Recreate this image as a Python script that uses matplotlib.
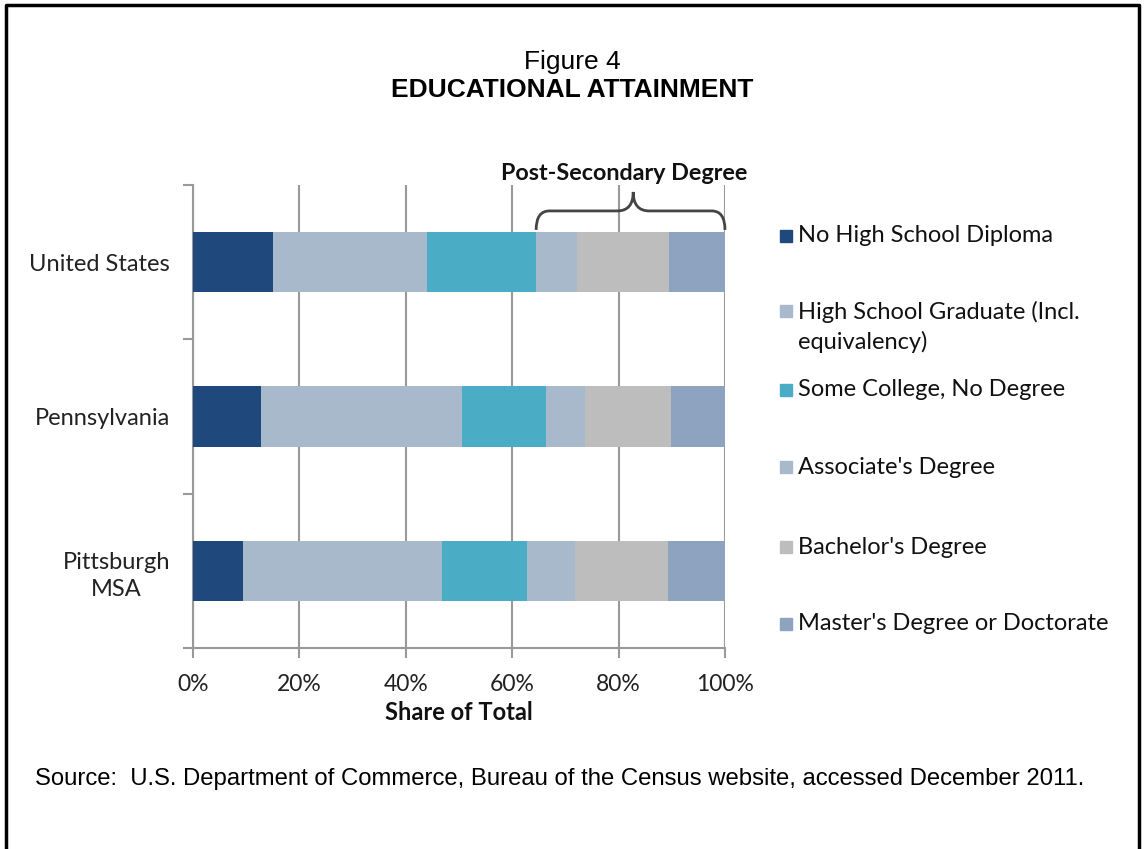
import matplotlib
matplotlib.use("Agg")
import matplotlib.pyplot as plt
from matplotlib.path import Path
from matplotlib.patches import PathPatch
import matplotlib.transforms as mtransforms
import numpy as np

regions = ['United States', 'Pennsylvania', 'Pittsburgh\nMSA']
levels = ['No High School Diploma',
          'High School Graduate (Incl.\nequivalency)',
          'Some College, No Degree',
          "Associate's Degree",
          "Bachelor's Degree",
          "Master's Degree or Doctorate"]
no_diploma = [15.0, 12.8, 9.4]
hs_grad = [29.0, 37.7, 37.4]
some_college = [20.5, 15.8, 16.0]
associate = [7.6, 7.4, 9.0]
bachelor = [17.4, 16.1, 17.5]
master = [10.5, 10.2, 10.7]
colors = ['#1F497D', '#A9B9CC', '#4BACC6', '#A9B9CC', '#BDBDBD', '#8EA3BF']

series = [no_diploma, hs_grad, some_college, associate, bachelor, master]

fig = plt.figure(figsize=(11.44, 8.49), dpi=100)
ax = fig.add_axes([193 / 1144, 1 - 648 / 849, 532 / 1144, 463 / 849])

ypos = np.arange(len(regions)) + 0.5
left = np.zeros(len(regions))
for vals, col in zip(series, colors):
    ax.barh(ypos, vals, left=left, height=0.39, color=col, zorder=3)
    left += np.array(vals)

ax.set_xlim(0, 100)
ax.set_ylim(3, 0)
ax.set_xticks([0, 20, 40, 60, 80, 100])
ax.set_xticklabels(['0%', '20%', '40%', '60%', '80%', '100%'],
                   family='Lato', fontsize=16.5, color='#222222')
ax.set_yticks([0, 1, 2, 3])
ax.set_yticklabels([])
ax.set_yticks(ypos, minor=True)
ax.set_yticklabels(regions, minor=True, family='Lato', fontsize=17,
                   color='#222222', ha='right', multialignment='center',
                   linespacing=1.35)
ax.tick_params(axis='y', which='minor', length=0, pad=16.5)
ax.tick_params(axis='y', which='major', length=7, color='#999999', width=1.5)
ax.tick_params(axis='x', length=7, color='#999999', width=1.5, pad=12)
ax.grid(axis='x', color='#999999', linewidth=1.5, zorder=0)
for s in ['top', 'right']:
    ax.spines[s].set_visible(False)
for s in ['left', 'bottom']:
    ax.spines[s].set_color('#999999')
    ax.spines[s].set_linewidth(1.5)
ax.set_xlabel('Share of Total', family='Lato', fontsize=17, fontweight='bold',
              labelpad=4, color='#111111')

# brace over the post-secondary segments
trans = mtransforms.blended_transform_factory(ax.transData, ax.transAxes)
x0 = sum(v[0] for v in series[:3])
x1 = 100
xm = (x0 + x1) / 2 + 0.5
yb, yh, yt = 0.903, 0.944, 0.985
verts = [(x0, yb), (x0, yh), (x0 + 2.5, yh),
         (xm - 3, yh), (xm, yh), (xm, yt),
         (xm, yh), (xm + 3, yh),
         (x1 - 2.5, yh), (x1, yh), (x1, yb)]
codes = [Path.MOVETO, Path.CURVE3, Path.CURVE3,
         Path.LINETO, Path.CURVE3, Path.CURVE3,
         Path.CURVE3, Path.CURVE3,
         Path.LINETO, Path.CURVE3, Path.CURVE3]
ax.add_patch(PathPatch(Path(verts, codes), transform=trans, fill=False,
                       edgecolor='#444444', linewidth=2, zorder=4, clip_on=False))
fig.text(624 / 1144, 1 - 173 / 849, 'Post-Secondary Degree', family='Lato',
         fontsize=16.8, fontweight='bold', ha='center', va='center', color='#111111')

# legend drawn as squares + labels down the right side
leg_y = [236, 327, 390, 467, 547, 624]
for lab, col, y in zip(levels, colors, leg_y):
    first_y = y - 16 if '\n' in lab else y
    fig.patches.append(plt.Rectangle((780 / 1144, 1 - (first_y + 6) / 849),
                                     12 / 1144, 12 / 849, color=col,
                                     transform=fig.transFigure))
    fig.text(798 / 1144, 1 - y / 849, lab, family='Lato', fontsize=17,
             va='center', ha='left', color='#111111', linespacing=1.45)

fig.text(0.5, 1 - 62 / 849, 'Figure 4', family='Liberation Sans', fontsize=19,
         ha='center', va='center')
fig.text(0.5, 1 - 90 / 849, 'EDUCATIONAL ATTAINMENT', family='Liberation Sans',
         fontsize=19, fontweight='bold', ha='center', va='center')
fig.text(35 / 1144, 1 - 779 / 849,
         'Source:  U.S. Department of Commerce, Bureau of the Census website, accessed December 2011.',
         family='Liberation Sans', fontsize=17.2, ha='left', va='center')

# page frame: left, top and right edges
fig.add_artist(plt.Line2D([6 / 1144, 6 / 1144, 1139 / 1144, 1139 / 1144],
                          [0, 1 - 5 / 849, 1 - 5 / 849, 0],
                          color='black', linewidth=2.5, transform=fig.transFigure))

plt.savefig('out.png', dpi=100)
